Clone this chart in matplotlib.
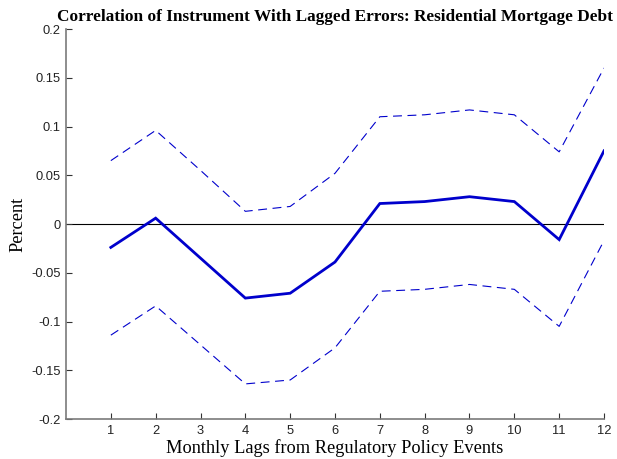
import matplotlib
matplotlib.use("Agg")
import matplotlib.pyplot as plt

lags = [1, 2, 3, 4, 5, 6, 7, 8, 9, 10, 11, 12]
estimate = [-0.024, 0.006, -0.035, -0.076, -0.071, -0.039, 0.021, 0.023, 0.028, 0.023, -0.016, 0.075]
upper_band = [0.065, 0.096, 0.055, 0.013, 0.018, 0.052, 0.110, 0.112, 0.117, 0.112, 0.074, 0.160]
lower_band = [-0.114, -0.084, -0.124, -0.164, -0.160, -0.127, -0.069, -0.067, -0.062, -0.067, -0.105, -0.017]
yticks = [-0.2, -0.15, -0.1, -0.05, 0, 0.05, 0.1, 0.15, 0.2]
ytick_labels = ["-0.2", "-0.15", "-0.1", "-0.05", "0", "0.05", "0.1", "0.15", "0.2"]

blue = "#0000CC"

fig = plt.figure(figsize=(6.17, 4.59), dpi=100)
ax = fig.add_axes([66 / 617, 40 / 459, 538 / 617, 390 / 459])

ax.axhline(0, color="black", lw=0.8, zorder=1)
ax.plot(lags, estimate, color=blue, lw=2.0, solid_joinstyle="miter", zorder=3)
ax.plot(lags, upper_band, color=blue, lw=0.8, dashes=(8, 5), zorder=2)
ax.plot(lags, lower_band, color=blue, lw=0.8, dashes=(8, 5), zorder=2)

ax.set_xlim(0, 12)
ax.set_ylim(-0.2, 0.2)
ax.set_xticks(lags)
ax.set_yticks(yticks)
ax.set_yticklabels(ytick_labels)

for side in ("top", "right"):
    ax.spines[side].set_visible(False)
for side in ("left", "bottom"):
    ax.spines[side].set_color("#7a7a7a")
    ax.spines[side].set_linewidth(1.2)

ax.tick_params(direction="in", length=4, width=0.8, color="#333333",
               labelsize=9.3, labelcolor="#222222", pad=4)
for lbl in ax.get_xticklabels() + ax.get_yticklabels():
    lbl.set_fontfamily("Liberation Sans")

ax.set_title("Correlation of Instrument With Lagged Errors: Residential Mortgage Debt",
             fontfamily="Liberation Serif", fontweight="bold", fontsize=12.4, pad=6)
ax.set_xlabel("Monthly Lags from Regulatory Policy Events",
              fontfamily="Liberation Serif", fontsize=13.2, labelpad=2)
ax.set_ylabel("Percent", fontfamily="Liberation Serif", fontsize=13.2, labelpad=3)

fig.savefig("out.png", dpi=100)
